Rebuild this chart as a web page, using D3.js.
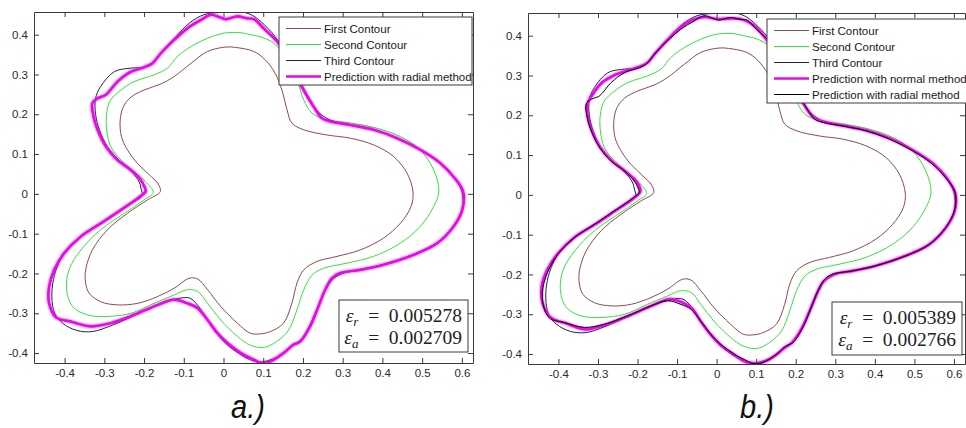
<!DOCTYPE html>
<html>
<head>
<meta charset="utf-8">
<script src="https://cdn.jsdelivr.net/npm/d3@7"></script>
<style>
  body { margin: 0; background: #fff; }
  svg { display: block; }
</style>
</head>
<body>
<svg id="chart" width="966" height="428"></svg>
<script>
// ---- axis ticks and limits ----
const xTicks = [-0.4, -0.3, -0.2, -0.1, 0, 0.1, 0.2, 0.3, 0.4, 0.5, 0.6];
const xTickLabels = ["-0.4", "-0.3", "-0.2", "-0.1", "0", "0.1", "0.2", "0.3", "0.4", "0.5", "0.6"];
const yTicks = [-0.4, -0.3, -0.2, -0.1, 0, 0.1, 0.2, 0.3, 0.4];
const yTickLabels = ["-0.4", "-0.3", "-0.2", "-0.1", "0", "0.1", "0.2", "0.3", "0.4"];
const xLimits = [-0.477, 0.628];
const yLimits = [-0.425, 0.457];

// ---- contours (x, y), traced clockwise ----
const firstContour = [
  [0.006, 0.369], [0.03, 0.368], [0.076, 0.358], [0.105, 0.337], [0.130, 0.303], [0.147, 0.261],
  [0.160, 0.211], [0.172, 0.178], [0.202, 0.161], [0.260, 0.148], [0.319, 0.140], [0.378, 0.123],
  [0.428, 0.094], [0.462, 0.052], [0.477, 0.005], [0.472, -0.032], [0.445, -0.074], [0.403, -0.111],
  [0.344, -0.141], [0.286, -0.157], [0.235, -0.170], [0.202, -0.191], [0.185, -0.224], [0.172, -0.275],
  [0.151, -0.325], [0.118, -0.346], [0.090, -0.352], [0.067, -0.350], [0.035, -0.325], [-0.007, -0.283],
  [-0.040, -0.241], [-0.065, -0.214], [-0.086, -0.212], [-0.124, -0.237], [-0.166, -0.258], [-0.216, -0.275],
  [-0.267, -0.279], [-0.309, -0.271], [-0.338, -0.250], [-0.347, -0.224], [-0.347, -0.191], [-0.330, -0.141],
  [-0.292, -0.090], [-0.242, -0.049], [-0.191, -0.015], [-0.159, 0.006], [-0.166, 0.027], [-0.187, 0.048],
  [-0.217, 0.077], [-0.242, 0.111], [-0.257, 0.144], [-0.260, 0.186], [-0.252, 0.219], [-0.233, 0.243],
  [-0.200, 0.261], [-0.158, 0.276], [-0.124, 0.295], [-0.082, 0.328], [-0.040, 0.358]
];

const secondContour = [
  [0.002, 0.404], [0.044, 0.405], [0.067, 0.400], [0.092, 0.395], [0.126, 0.379], [0.160, 0.337],
  [0.185, 0.286], [0.202, 0.236], [0.223, 0.203], [0.260, 0.186], [0.319, 0.178], [0.386, 0.165],
  [0.445, 0.144], [0.495, 0.111], [0.529, 0.060], [0.542, 0.006], [0.529, -0.032], [0.495, -0.082],
  [0.445, -0.124], [0.378, -0.157], [0.311, -0.174], [0.252, -0.187], [0.223, -0.204], [0.202, -0.241],
  [0.185, -0.291], [0.164, -0.342], [0.134, -0.371], [0.101, -0.386], [0.067, -0.380], [0.035, -0.358],
  [-0.007, -0.317], [-0.040, -0.275], [-0.065, -0.245], [-0.091, -0.241], [-0.124, -0.254], [-0.175, -0.275],
  [-0.233, -0.300], [-0.292, -0.308], [-0.343, -0.304], [-0.380, -0.283], [-0.395, -0.241], [-0.389, -0.191],
  [-0.359, -0.141], [-0.309, -0.090], [-0.250, -0.049], [-0.200, -0.015], [-0.177, 0.003], [-0.196, 0.031],
  [-0.225, 0.056], [-0.258, 0.085], [-0.284, 0.119], [-0.294, 0.161], [-0.294, 0.203], [-0.284, 0.236],
  [-0.258, 0.261], [-0.225, 0.282], [-0.175, 0.299], [-0.141, 0.316], [-0.116, 0.345], [-0.082, 0.370],
  [-0.040, 0.391]
];

const thirdContour = [
  [-0.020, 0.455], [0.010, 0.457], [0.045, 0.457], [0.070, 0.450], [0.095, 0.432], [0.130, 0.395],
  [0.160, 0.345], [0.180, 0.300], [0.200, 0.260], [0.220, 0.228], [0.245, 0.200], [0.270, 0.185],
  [0.319, 0.174], [0.378, 0.162], [0.437, 0.141], [0.495, 0.112], [0.546, 0.078], [0.579, 0.044],
  [0.600, 0.006], [0.601, -0.040], [0.579, -0.082], [0.538, -0.124], [0.479, -0.152], [0.403, -0.177],
  [0.344, -0.190], [0.300, -0.200], [0.275, -0.215], [0.255, -0.245], [0.235, -0.290], [0.212, -0.340],
  [0.190, -0.372], [0.170, -0.385], [0.145, -0.405], [0.115, -0.418], [0.090, -0.423], [0.065, -0.416],
  [0.040, -0.402], [0.008, -0.378], [-0.018, -0.350], [-0.040, -0.318], [-0.065, -0.280], [-0.085, -0.262],
  [-0.110, -0.262], [-0.130, -0.267], [-0.170, -0.280], [-0.225, -0.306], [-0.280, -0.330], [-0.330, -0.346],
  [-0.370, -0.343], [-0.405, -0.325], [-0.425, -0.300], [-0.432, -0.260], [-0.428, -0.215], [-0.415, -0.175],
  [-0.390, -0.135], [-0.355, -0.105], [-0.309, -0.076], [-0.260, -0.043], [-0.225, -0.020], [-0.205, -0.005],
  [-0.208, 0.015], [-0.212, 0.030], [-0.228, 0.052], [-0.260, 0.082], [-0.292, 0.118], [-0.312, 0.160],
  [-0.322, 0.200], [-0.322, 0.240], [-0.309, 0.270], [-0.275, 0.307], [-0.233, 0.316], [-0.200, 0.318],
  [-0.178, 0.329], [-0.155, 0.357], [-0.120, 0.395], [-0.085, 0.430], [-0.050, 0.450]
];

const radialPrediction = [
  [-0.032, 0.450], [-0.010, 0.444], [0.006, 0.439], [0.035, 0.446], [0.059, 0.441], [0.077, 0.439],
  [0.101, 0.416], [0.135, 0.383], [0.165, 0.335], [0.185, 0.295], [0.202, 0.261], [0.227, 0.219],
  [0.248, 0.190], [0.269, 0.182], [0.319, 0.173], [0.378, 0.161], [0.437, 0.140], [0.495, 0.111],
  [0.546, 0.077], [0.579, 0.043], [0.603, 0.006], [0.601, -0.040], [0.579, -0.082], [0.538, -0.124],
  [0.479, -0.153], [0.403, -0.178], [0.344, -0.191], [0.294, -0.199], [0.273, -0.212], [0.256, -0.241],
  [0.239, -0.283], [0.218, -0.333], [0.193, -0.371], [0.176, -0.379], [0.151, -0.400], [0.118, -0.421],
  [0.092, -0.424], [0.077, -0.417], [0.044, -0.400], [0.010, -0.375], [-0.015, -0.350], [-0.040, -0.317],
  [-0.065, -0.287], [-0.091, -0.275], [-0.124, -0.266], [-0.166, -0.279], [-0.225, -0.304], [-0.284, -0.325],
  [-0.334, -0.333], [-0.384, -0.321], [-0.422, -0.310], [-0.439, -0.275], [-0.439, -0.233], [-0.426, -0.191],
  [-0.401, -0.149], [-0.359, -0.107], [-0.309, -0.074], [-0.258, -0.040], [-0.216, -0.011], [-0.196, 0.006],
  [-0.200, 0.020], [-0.208, 0.035], [-0.233, 0.060], [-0.267, 0.085], [-0.296, 0.119], [-0.317, 0.161],
  [-0.327, 0.194], [-0.330, 0.228], [-0.317, 0.240], [-0.296, 0.249], [-0.267, 0.282], [-0.233, 0.307],
  [-0.200, 0.318], [-0.179, 0.328], [-0.158, 0.353], [-0.124, 0.387], [-0.091, 0.416], [-0.057, 0.437]
];

const normalPrediction = [
  [-0.030, 0.447], [0.000, 0.442], [0.030, 0.443], [0.060, 0.442], [0.085, 0.432], [0.120, 0.398],
  [0.155, 0.345], [0.178, 0.300], [0.198, 0.262], [0.222, 0.225], [0.245, 0.195], [0.270, 0.184],
  [0.319, 0.174], [0.378, 0.162], [0.437, 0.142], [0.495, 0.113], [0.548, 0.078], [0.582, 0.042],
  [0.603, 0.005], [0.602, -0.040], [0.580, -0.082], [0.537, -0.125], [0.478, -0.153], [0.403, -0.178],
  [0.344, -0.191], [0.296, -0.200], [0.270, -0.218], [0.255, -0.245], [0.236, -0.290], [0.214, -0.338],
  [0.190, -0.372], [0.172, -0.384], [0.148, -0.404], [0.118, -0.420], [0.092, -0.423], [0.070, -0.418],
  [0.042, -0.400], [0.010, -0.377], [-0.016, -0.350], [-0.040, -0.318], [-0.063, -0.285], [-0.088, -0.270],
  [-0.118, -0.262], [-0.160, -0.277], [-0.225, -0.305], [-0.283, -0.327], [-0.330, -0.338], [-0.380, -0.323],
  [-0.420, -0.308], [-0.440, -0.272], [-0.442, -0.228], [-0.428, -0.188], [-0.402, -0.148], [-0.360, -0.107],
  [-0.309, -0.075], [-0.258, -0.041], [-0.215, -0.012], [-0.193, 0.008], [-0.196, 0.022], [-0.205, 0.036],
  [-0.232, 0.060], [-0.266, 0.086], [-0.295, 0.120], [-0.316, 0.162], [-0.326, 0.196], [-0.327, 0.228],
  [-0.312, 0.255], [-0.290, 0.282], [-0.260, 0.300], [-0.225, 0.313], [-0.195, 0.322], [-0.175, 0.332],
  [-0.155, 0.356], [-0.122, 0.392], [-0.090, 0.422], [-0.060, 0.440]
];

// ---- legend names and error values ----
const seriesNamesA = ["First Contour", "Second Contour", "Third Contour", "Prediction with radial method"];
const seriesNamesB = ["First Contour", "Second Contour", "Third Contour", "Prediction with normal method", "Prediction with radial method"];
const errorValuesA = ["0.005278", "0.002709"];
const errorValuesB = ["0.005389", "0.002766"];
const panelTags = ["a.)", "b.)"];

// ---- styles ----
const styles = {
  first:  { color: "#8e4a4e", width: 1 },
  second: { color: "#3ae03a", width: 1 },
  third:  { color: "#1e1e5e", width: 1 },
  magenta:{ color: "#e30ce3", width: 2.7 },
  black:  { color: "#000000", width: 1 }
};

const panels = [
  {
    box: { left: 34, top: 12, right: 473, bottom: 363 },
    series: [
      { data: firstContour, style: styles.first },
      { data: secondContour, style: styles.second },
      { data: thirdContour, style: styles.third },
      { data: radialPrediction, style: styles.magenta, halo: true }
    ],
    names: seriesNamesA,
    legend: { x: 279, y: 17, w: 193, h: 68, styles: [styles.first, styles.second, styles.third, styles.magenta] },
    err: { x: 339, y: 300, w: 129, h: 52, values: errorValuesA },
    tag: { x: 248, y: 418, text: panelTags[0] }
  },
  {
    box: { left: 528, top: 13, right: 965, bottom: 364 },
    series: [
      { data: firstContour, style: styles.first },
      { data: secondContour, style: styles.second },
      { data: thirdContour, style: styles.third },
      { data: normalPrediction, style: styles.magenta, halo: true },
      { data: radialPrediction, style: styles.black }
    ],
    names: seriesNamesB,
    legend: { x: 767, y: 19, w: 205, h: 84, styles: [styles.first, styles.second, styles.third, styles.magenta, styles.black] },
    err: { x: 832, y: 302, w: 130, h: 53, values: errorValuesB },
    tag: { x: 757, y: 418, text: panelTags[1] }
  }
];

const svg = d3.select("#chart");
svg.append("rect").attr("width", 966).attr("height", 428).attr("fill", "#fff");

const axisColor = "#3a3a3a";
const tickFont = "'Liberation Sans', Arial, sans-serif";

panels.forEach((p, i) => {
  const b = p.box;
  const x = d3.scaleLinear().domain(xLimits).range([b.left, b.right]);
  const y = d3.scaleLinear().domain(yLimits).range([b.bottom, b.top]);
  const g = svg.append("g");

  const clipId = "clip" + i;
  g.append("clipPath").attr("id", clipId)
    .append("rect").attr("x", b.left).attr("y", b.top)
    .attr("width", b.right - b.left).attr("height", b.bottom - b.top);

  const line = d3.line().x(d => x(d[0])).y(d => y(d[1])).curve(d3.curveCatmullRomClosed.alpha(0.5));
  const plot = g.append("g").attr("clip-path", `url(#${clipId})`);

  p.series.forEach(s => {
    if (s.halo) {
      plot.append("path").attr("d", line(s.data)).attr("fill", "none")
        .attr("stroke", s.style.color).attr("stroke-opacity", 0.25)
        .attr("stroke-width", s.style.width + 2.5).attr("stroke-linejoin", "round");
    }
    plot.append("path").attr("d", line(s.data)).attr("fill", "none")
      .attr("stroke", s.style.color).attr("stroke-width", s.style.width)
      .attr("stroke-linejoin", "round");
  });

  // axes with inward ticks on all four sides
  const axes = [
    { ax: d3.axisBottom(x).tickValues(xTicks).tickFormat((d, k) => xTickLabels[k]), tr: `translate(0,${b.bottom})` },
    { ax: d3.axisTop(x).tickValues(xTicks).tickFormat(""), tr: `translate(0,${b.top})` },
    { ax: d3.axisLeft(y).tickValues(yTicks).tickFormat((d, k) => yTickLabels[k]), tr: `translate(${b.left},0)` },
    { ax: d3.axisRight(y).tickValues(yTicks).tickFormat(""), tr: `translate(${b.right},0)` }
  ];
  axes.forEach(a => {
    const ag = g.append("g").attr("transform", a.tr)
      .call(a.ax.tickSizeInner(-5).tickSizeOuter(0).tickPadding(6));
    ag.select(".domain").attr("stroke", axisColor);
    ag.selectAll(".tick line").attr("stroke", axisColor);
    ag.selectAll(".tick text").attr("fill", "#2a2a2a")
      .style("font-family", tickFont).style("font-size", "11.5px");
  });

  // legend
  const L = p.legend;
  const lg = g.append("g");
  lg.append("rect").attr("x", L.x).attr("y", L.y).attr("width", L.w).attr("height", L.h)
    .attr("fill", "#fff").attr("stroke", axisColor).attr("stroke-width", 1);
  const rowH = (L.h - 4) / p.names.length;
  p.names.forEach((name, k) => {
    const cy = L.y + 3 + rowH * (k + 0.5) + 0.5;
    lg.append("line").attr("x1", L.x + 7).attr("x2", L.x + 42).attr("y1", cy).attr("y2", cy)
      .attr("stroke", L.styles[k].color).attr("stroke-width", L.styles[k].width);
    lg.append("text").attr("x", L.x + 45).attr("y", cy).attr("dy", "0.36em")
      .style("font-family", tickFont).style("font-size", "11.5px").attr("fill", "#1a1a1a")
      .text(name);
  });

  // error summary box
  const E = p.err;
  const eg = g.append("g");
  eg.append("rect").attr("x", E.x).attr("y", E.y).attr("width", E.w).attr("height", E.h)
    .attr("fill", "#fff").attr("stroke", axisColor).attr("stroke-width", 1);
  const subs = ["r", "a"];
  E.values.forEach((v, k) => {
    const t = eg.append("text").attr("x", E.x + E.w - 6).attr("y", E.y + 22 + k * 21.5)
      .attr("text-anchor", "end").attr("fill", "#222")
      .style("font-family", "'Liberation Serif', 'DejaVu Serif', serif").style("font-size", "19.5px");
    t.append("tspan").style("font-style", "italic").text("\u03b5");
    t.append("tspan").attr("dy", "4").style("font-style", "italic").style("font-size", "13px").text(subs[k]);
    t.append("tspan").attr("dy", "-4").text("\u2002=\u2002" + v);
  });

  // panel tag
  svg.append("text")
    .attr("transform", `translate(${p.tag.x},${p.tag.y}) scale(0.88,1)`)
    .attr("text-anchor", "middle")
    .style("font-family", tickFont).style("font-style", "italic").style("font-size", "33px")
    .attr("fill", "#111").text(p.tag.text);
});
</script>
</body>
</html>
